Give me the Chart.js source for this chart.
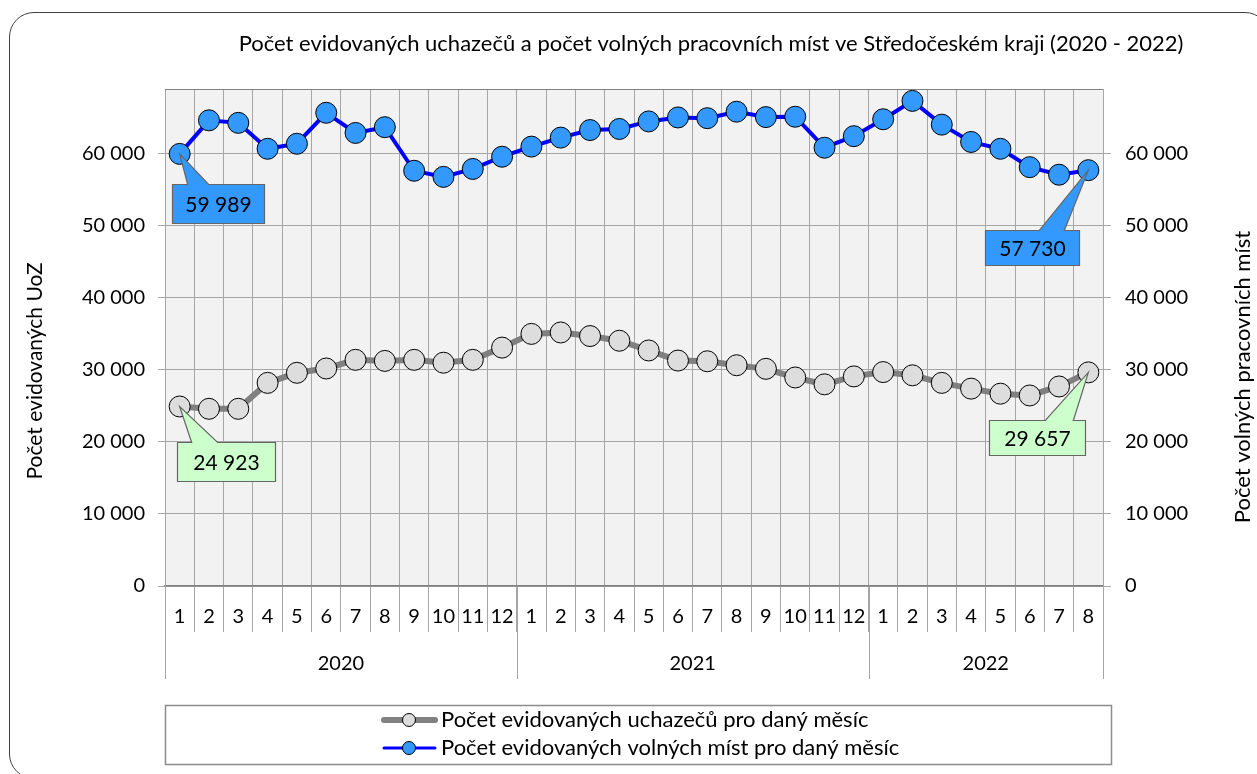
<!DOCTYPE html>
<html>
<head>
<meta charset="utf-8">
<title>Počet evidovaných uchazečů a volných míst</title>
<script src="https://cdn.jsdelivr.net/npm/chart.js"></script>
<style>
    html, body { margin: 0; padding: 0; background: #fff; overflow: hidden; }
    #wrap { position: relative; width: 1257px; height: 774px; overflow: hidden; }
    #frame { position: absolute; left: 9px; top: 12px; width: 1261px; height: 767px; box-sizing: border-box;
             border: 1.5px solid #404040; border-radius: 25px; pointer-events: none; }
    canvas { position: absolute; left: 0; top: 0; }
</style>
</head>
<body>
<div id="wrap">
    <div id="frame"></div>
    <canvas id="chart" width="1257" height="774"></canvas>
</div>
<script>
// data
const months = ['1','2','3','4','5','6','7','8','9','10','11','12',
                '1','2','3','4','5','6','7','8','9','10','11','12',
                '1','2','3','4','5','6','7','8'];
const yearLabels = ['2020', '2021', '2022'];
const yearSpans = [12, 12, 8];
const uchazeci = [24923, 24600, 24600, 28200, 29600, 30200, 31400, 31250, 31400, 31000, 31400, 33100,
                  35000, 35200, 34700, 34050, 32700, 31300, 31200, 30650, 30150, 28950, 28000, 29100,
                  29700, 29250, 28200, 27400, 26700, 26450, 27700, 29657];
const volnaMista = [59989, 64650, 64300, 60700, 61400, 65700, 62900, 63700, 57650, 56800, 57900, 59600,
                    61000, 62250, 63300, 63450, 64500, 65050, 64950, 65850, 65100, 65150, 60850, 62450,
                    64800, 67350, 64050, 61650, 60700, 58150, 57100, 57730];
const yTicks = [0, 10000, 20000, 30000, 40000, 50000, 60000];
const yMax = 69000;

const chartTitle = 'Počet evidovaných uchazečů a počet volných pracovních míst ve Středočeském kraji (2020 - 2022)';
const leftTitle = 'Počet evidovaných UoZ';
const rightTitle = 'Počet volných pracovních míst';
const seriesNames = ['Počet evidovaných uchazečů pro daný měsíc', 'Počet evidovaných volných míst pro daný měsíc'];

const FONT = 'Lato, "Liberation Sans", sans-serif';

// 24 923 style
function fmt(v) {
    return String(Math.round(v)).replace(/\B(?=(\d{3})+(?!\d))/g, ' ');
}

// popisky u prvního a posledního bodu
const callouts = [
    { ds: 0, idx: 0,  ox: -3,   oy: 36, w: 98, h: 39, b1: 12,  b2: 38,  fill: '#CCFFCC' },
    { ds: 0, idx: 31, ox: -99,  oy: 48, w: 96, h: 35, b1: -43, b2: -15, fill: '#CCFFCC' },
    { ds: 1, idx: 0,  ox: -8,   oy: 30, w: 92, h: 39, b1: 8,   b2: 29,  fill: '#3399FF' },
    { ds: 1, idx: 31, ox: -103, oy: 60, w: 94, h: 35, b1: -49, b2: -24, fill: '#3399FF' }
];

const decorPlugin = {
    id: 'decor',
    beforeDraw(chart) {
        const { ctx, chartArea: a } = chart;
        ctx.save();
        ctx.fillStyle = '#F2F2F2';
        ctx.fillRect(a.left, a.top, a.right - a.left, a.bottom - a.top);
        ctx.restore();
    },
    afterDraw(chart) {
        const { ctx, chartArea: a } = chart;
        const x = chart.scales.x;
        ctx.save();

        // horní okraj plochy
        ctx.strokeStyle = '#808080';
        ctx.lineWidth = 1;
        ctx.beginPath();
        ctx.moveTo(a.left, a.top + 0.5);
        ctx.lineTo(a.right, a.top + 0.5);
        ctx.stroke();

        // roky pod měsíci
        const half = (x.getPixelForValue(1) - x.getPixelForValue(0)) / 2;
        let start = 0;
        ctx.strokeStyle = '#A6A6A6';
        ctx.fillStyle = '#000';
        ctx.font = '20px ' + FONT;
        ctx.textAlign = 'center';
        ctx.textBaseline = 'middle';
        yearLabels.forEach((yr, i) => {
            const end = start + yearSpans[i] - 1;
            const x0 = x.getPixelForValue(start) - half;
            const x1 = x.getPixelForValue(end) + half;
            ctx.beginPath();
            ctx.moveTo(Math.round(x0) + 0.5, a.bottom);
            ctx.lineTo(Math.round(x0) + 0.5, a.bottom + 93);
            ctx.moveTo(Math.round(x1) + 0.5, a.bottom);
            ctx.lineTo(Math.round(x1) + 0.5, a.bottom + 93);
            ctx.stroke();
            ctx.fillText(yr, (x0 + x1) / 2, a.bottom + 78);
            start = end + 1;
        });

        // nadpis
        ctx.font = '22px ' + FONT;
        ctx.fillText(chartTitle, 711, 44);

        // názvy os
        ctx.font = '21px ' + FONT;
        ctx.save();
        ctx.translate(35, 371);
        ctx.rotate(-Math.PI / 2);
        ctx.fillText(leftTitle, 0, 0);
        ctx.restore();
        ctx.font = '22px ' + FONT;
        ctx.save();
        ctx.translate(1243, 377);
        ctx.rotate(-Math.PI / 2);
        ctx.fillText(rightTitle, 0, 0);
        ctx.restore();

        // legenda
        ctx.strokeStyle = '#8C8C8C';
        ctx.lineWidth = 1.5;
        ctx.strokeRect(165.5, 705.5, 946, 59);
        chart.data.datasets.forEach((d, i) => {
            const ly = 720 + i * 28;
            ctx.strokeStyle = d.borderColor;
            ctx.lineWidth = i === 0 ? 6 : 3;
            ctx.lineCap = 'round';
            ctx.beginPath();
            ctx.moveTo(384, ly);
            ctx.lineTo(435, ly);
            ctx.stroke();
            ctx.beginPath();
            ctx.arc(409, ly, 6.5, 0, Math.PI * 2);
            ctx.fillStyle = d.pointBackgroundColor;
            ctx.fill();
            ctx.lineWidth = 1;
            ctx.strokeStyle = '#000';
            ctx.stroke();
            ctx.fillStyle = '#000';
            ctx.textAlign = 'left';
            ctx.font = '22px ' + FONT;
            ctx.fillText(seriesNames[i], 441, ly);
        });
        ctx.restore();
    },
    afterDatasetsDraw(chart) {
        const { ctx } = chart;
        ctx.save();
        callouts.forEach(c => {
            const el = chart.getDatasetMeta(c.ds).data[c.idx];
            const px = el.x, py = el.y;
            const x0 = Math.round(px + c.ox) + 0.5, y0 = Math.round(py + c.oy) + 0.5;
            const x1 = x0 + c.w, y1 = y0 + c.h;
            ctx.beginPath();
            ctx.moveTo(x0, y0);
            ctx.lineTo(px + c.b1, y0);
            ctx.lineTo(px, py);
            ctx.lineTo(px + c.b2, y0);
            ctx.lineTo(x1, y0);
            ctx.lineTo(x1, y1);
            ctx.lineTo(x0, y1);
            ctx.closePath();
            ctx.fillStyle = c.fill;
            ctx.fill();
            ctx.strokeStyle = '#666';
            ctx.lineWidth = 1.2;
            ctx.stroke();
            ctx.fillStyle = '#000';
            ctx.font = '21px ' + FONT;
            ctx.textAlign = 'center';
            ctx.textBaseline = 'middle';
            ctx.fillText(fmt(chart.data.datasets[c.ds].data[c.idx]), (x0 + x1) / 2, (y0 + y1) / 2 + 1);
        });
        ctx.restore();
    }
};

function yScale(pos, titleText) {
    return {
        type: 'linear',
        position: pos,
        min: 0,
        max: yMax,
        afterBuildTicks: s => { s.ticks = yTicks.map(v => ({ value: v })); },
        afterFit: s => { s.width = pos === 'left' ? 165 : 154; },
        grid: {
            color: '#A6A6A6',
            lineWidth: 1,
            drawOnChartArea: pos === 'left',
            tickLength: pos === 'left' ? 7 : 8,
            tickColor: '#A6A6A6'
        },
        border: { color: '#A6A6A6', width: 1 },
        ticks: {
            color: '#000',
            font: { family: FONT, size: 20 },
            padding: pos === 'left' ? 13 : 14,
            callback: v => fmt(v)
        },
        title: { display: false, text: titleText }
    };
}

new Chart(document.getElementById('chart'), {
    type: 'line',
    data: {
        labels: months,
        datasets: [
            {
                label: seriesNames[0],
                data: uchazeci,
                yAxisID: 'y',
                borderColor: '#808080',
                borderWidth: 6,
                pointRadius: 10.5,
                pointBackgroundColor: '#DDDDDD',
                pointBorderColor: '#000',
                pointBorderWidth: 1,
                tension: 0
            },
            {
                label: seriesNames[1],
                data: volnaMista,
                yAxisID: 'y1',
                borderColor: '#0000FF',
                borderWidth: 4,
                pointRadius: 10.5,
                pointBackgroundColor: '#3399FF',
                pointBorderColor: '#000',
                pointBorderWidth: 1,
                tension: 0
            }
        ]
    },
    options: {
        responsive: false,
        animation: false,
        layout: { padding: { top: 89, left: 0, right: 0, bottom: 0 } },
        plugins: {
            legend: { display: false },
            title: { display: false },
            tooltip: { enabled: false }
        },
        scales: {
            x: {
                type: 'category',
                offset: true,
                afterFit: s => { s.height = 188; },
                grid: {
                    offset: true,
                    color: '#A6A6A6',
                    tickColor: '#A6A6A6',
                    tickLength: 46
                },
                border: { color: '#808080', width: 1.5 },
                ticks: {
                    color: '#000',
                    font: { family: FONT, size: 20 },
                    padding: -27,
                    autoSkip: false,
                    maxRotation: 0
                }
            },
            y: yScale('left', leftTitle),
            y1: yScale('right', rightTitle)
        }
    },
    plugins: [decorPlugin]
});
</script>
</body>
</html>
